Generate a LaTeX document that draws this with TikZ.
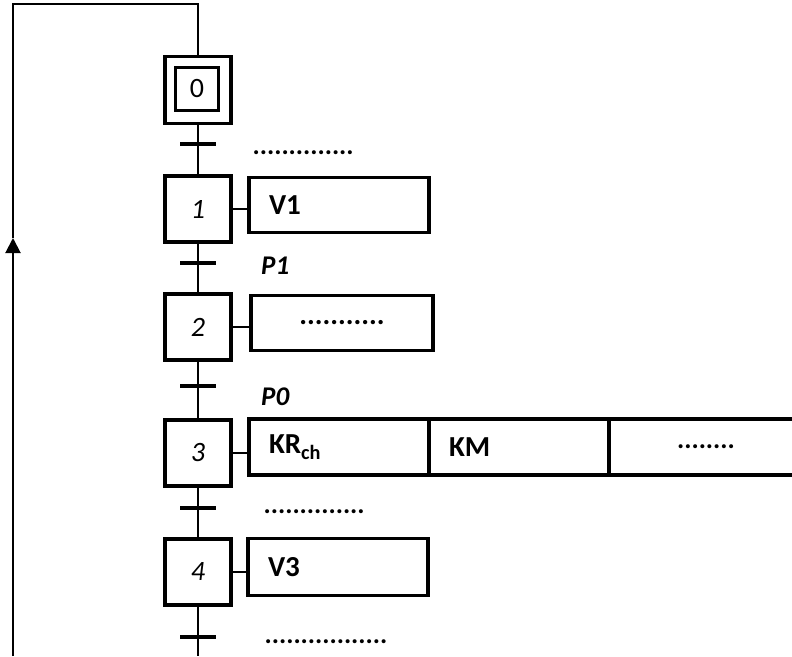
\documentclass[tikz,border=0pt]{standalone}
\usepackage{fontspec}
\setmainfont{Carlito}
\usetikzlibrary{positioning}
\usetikzlibrary{arrows.meta}
\tikzset{etape/.style = {draw, line width=3.5pt, minimum width=66, minimum height=66,
                         inner sep=0, font=\fontsize{28}{32}\selectfont\itshape}}
\tikzset{action/.style = {draw, line width=3.5pt, minimum width=180, minimum height=55,
                          inner sep=0, font=\fontsize{29}{34}\selectfont\bfseries}}
\tikzset{actg/.style = {action, text width=140, align=left, inner xsep=20}}
\tikzset{trans/.style = {line width=4pt}}
\tikzset{lien/.style = {line width=1.5pt}}
\tikzset{recep/.style = {anchor=west, inner sep=0,
                         font=\fontsize{27}{32}\selectfont\bfseries\itshape}}

\begin{document}
\begin{tikzpicture}[x=1pt, y=-1pt]
      \useasboundingbox (0,0) rectangle (792,656);
      \clip (0,0) rectangle (792,656);

      % etapes
      \node[etape, minimum width=66, minimum height=67] (e0) at (198,90) {};
      \node[etape, minimum width=43, minimum height=43, font=\fontsize{28}{32}\selectfont] (e0i) at (197,89) {0};
      \node[etape] (e1) at (198,209) {1};
      \node[etape] (e2) at (198,327) {2};
      \node[etape] (e3) at (198,453) {3};
      \node[etape] (e4) at (198,572) {4};

      % actions
      \node[actg] (a1) at (339,205) {V1};
      \node[action, minimum width=182] (a2) at (342,323) {...........};
      \node[actg, minimum height=56] (a3) at (339,447) {KR\textsubscript{ch}};
      \node[actg, minimum height=56, right=-3.5pt of a3] (a3b) {KM};
      \node[action, minimum height=56, minimum width=200, right=-3.5pt of a3b] (a3c) {};
      \node[font=\fontsize{27}{32}\selectfont\bfseries] (a3d) at (706,447) {........};
      \node[actg, minimum height=57] (a4) at (338,567) {V3};

      \draw[lien] (e1.east) -- (a1.west |- e1.east);
      \draw[lien] (e2.east) -- (a2.west |- e2.east);
      \draw[lien] (e3.east) -- (a3.west |- e3.east);
      \draw[lien] (e4.east) -- (a4.west |- e4.east);

      % liaisons
      \coordinate (haut) at (198,4);
      \coordinate (coin) at (13,4);
      \coordinate (bas) at (13,656);
      \coordinate (fl) at (13,238);
      \coordinate (fin) at (198,656);
      \draw[lien] (e0.south) -- (e1.north);
      \draw[lien] (e1.south) -- (e2.north);
      \draw[lien] (e2.south) -- (e3.north);
      \draw[lien] (e3.south) -- (e4.north);
      \draw[lien] (e4.south) -- (fin);
      \draw[lien, line width=2pt, -{Triangle[width=15pt,length=15pt]}] (bas) -- (fl);
      \draw[lien, line width=2pt] (fl) -- (coin) -- (haut) -- (e0.north);

      % transitions
      \coordinate (t0) at (198,144);
      \coordinate (t1) at (198,263);
      \coordinate (t2) at (198,386);
      \coordinate (t3) at (198,508);
      \coordinate (t4) at (198,637);
      \foreach \t in {t0,t1,t2,t3,t4}
        \draw[trans] ([xshift=-18]\t) -- ([xshift=18]\t);

      \node[recep] (r0) at (253,153) {..............};
      \node[recep] (r1) at (261,266) {P1};
      \node[recep] (r2) at (261,397) {P0};
      \node[recep] (r3) at (264,512) {..............};
      \node[recep] (r4) at (265,642) {.................};
\end{tikzpicture}
\end{document}
